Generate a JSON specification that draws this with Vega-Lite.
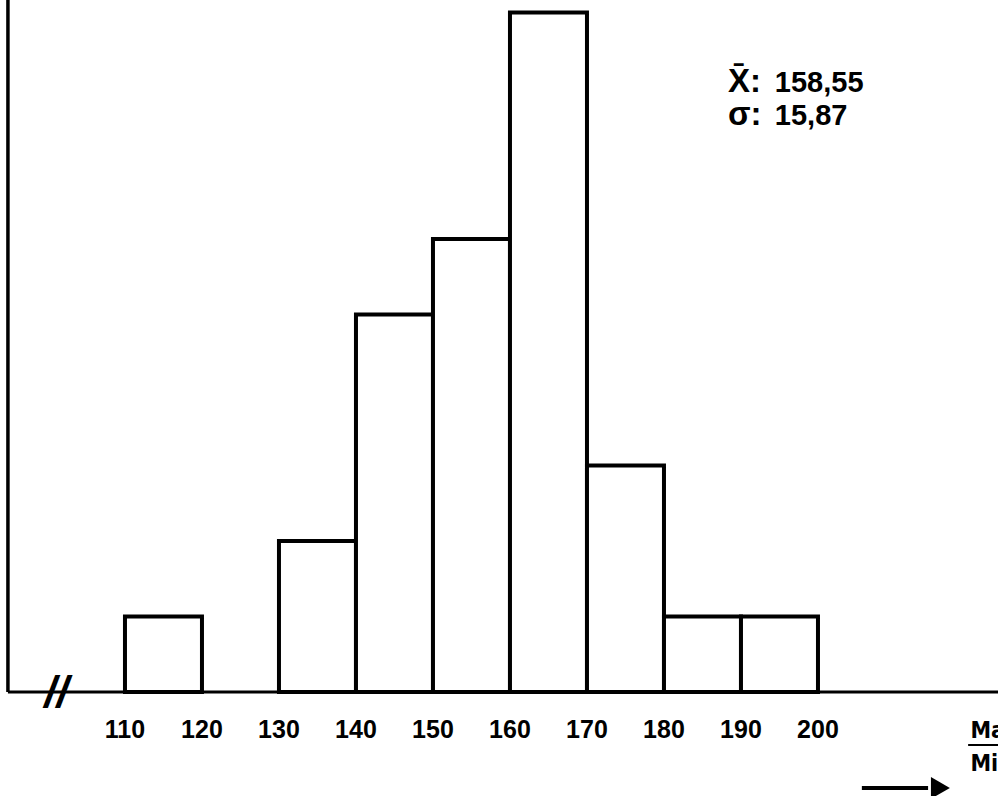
{
  "$schema": "https://vega.github.io/schema/vega-lite/v6.json",
  "width": 998,
  "height": 796,
  "padding": 0,
  "autosize": {"type": "none"},
  "background": "white",
  "config": {
    "view": {"stroke": null},
    "axis": {"disable": true},
    "text": {"font": "Liberation Sans", "fontWeight": "bold", "color": "black"}
  },
  "datasets": {
    "classes": [
      {"lo": 110, "hi": 120, "n": 1},
      {"lo": 130, "hi": 140, "n": 2},
      {"lo": 140, "hi": 150, "n": 5},
      {"lo": 150, "hi": 160, "n": 6},
      {"lo": 160, "hi": 170, "n": 9},
      {"lo": 170, "hi": 180, "n": 3},
      {"lo": 180, "hi": 190, "n": 1},
      {"lo": 190, "hi": 200, "n": 1}
    ],
    "ticks": [
      {"v": 110}, {"v": 120}, {"v": 130}, {"v": 140}, {"v": 150},
      {"v": 160}, {"v": 170}, {"v": 180}, {"v": 190}, {"v": 200}
    ]
  },
  "encoding": {
    "x": {"type": "quantitative", "scale": {"domain": [93.77, 223.38], "nice": false, "zero": false}},
    "y": {"type": "quantitative", "scale": {"domain": [-1.377, 9.166], "nice": false, "zero": false}}
  },
  "layer": [
    {
      "data": {"values": [{"k": "y-axis"}]},
      "mark": {"type": "rule", "stroke": "black", "strokeWidth": 3.5},
      "encoding": {
        "x": {"datum": 94.8, "type": "quantitative"},
        "y": {"datum": 0, "type": "quantitative"},
        "y2": {"datum": 9.3}
      }
    },
    {
      "data": {"values": [{"k": "x-axis"}]},
      "mark": {"type": "rule", "stroke": "black", "strokeWidth": 3},
      "encoding": {
        "x": {"datum": 94.8, "type": "quantitative"},
        "x2": {"datum": 224},
        "y": {"datum": 0, "type": "quantitative"}
      }
    },
    {
      "data": {"name": "classes"},
      "mark": {"type": "rect", "fill": "white", "stroke": "black", "strokeWidth": 4, "strokeJoin": "miter"},
      "encoding": {
        "x": {"field": "lo", "type": "quantitative"},
        "x2": {"field": "hi"},
        "y": {"field": "n", "type": "quantitative"},
        "y2": {"datum": 0}
      }
    },
    {
      "data": {"values": [{"mark": "//"}]},
      "mark": {"type": "text", "fontSize": 44, "fontStyle": "italic", "align": "center", "baseline": "middle"},
      "encoding": {
        "x": {"datum": 101.1, "type": "quantitative"},
        "y": {"datum": -0.02, "type": "quantitative"},
        "text": {"field": "mark"}
      }
    },
    {
      "data": {"name": "ticks"},
      "mark": {"type": "text", "fontSize": 25, "align": "center", "baseline": "alphabetic"},
      "encoding": {
        "x": {"field": "v", "type": "quantitative"},
        "y": {"datum": -0.61, "type": "quantitative"},
        "text": {"field": "v", "type": "quantitative", "format": "d"}
      }
    },
    {
      "data": {"values": [{"label": "X̄:"}]},
      "mark": {"type": "text", "fontSize": 33, "align": "left", "baseline": "alphabetic"},
      "encoding": {
        "x": {"datum": 188.3, "type": "quantitative"},
        "y": {"datum": 7.95, "type": "quantitative"},
        "text": {"field": "label"}
      }
    },
    {
      "data": {"values": [{"label": "158,55"}]},
      "mark": {"type": "text", "fontSize": 29, "align": "left", "baseline": "alphabetic"},
      "encoding": {
        "x": {"datum": 194.4, "type": "quantitative"},
        "y": {"datum": 7.95, "type": "quantitative"},
        "text": {"field": "label"}
      }
    },
    {
      "data": {"values": [{"label": "σ:"}]},
      "mark": {"type": "text", "fontSize": 33, "align": "left", "baseline": "alphabetic"},
      "encoding": {
        "x": {"datum": 188.3, "type": "quantitative"},
        "y": {"datum": 7.51, "type": "quantitative"},
        "text": {"field": "label"}
      }
    },
    {
      "data": {"values": [{"label": "15,87"}]},
      "mark": {"type": "text", "fontSize": 29, "align": "left", "baseline": "alphabetic"},
      "encoding": {
        "x": {"datum": 194.4, "type": "quantitative"},
        "y": {"datum": 7.51, "type": "quantitative"},
        "text": {"field": "label"}
      }
    },
    {
      "data": {"values": [{"t": "Ma"}]},
      "mark": {"type": "text", "font": "DejaVu Sans Condensed", "fontSize": 23, "align": "left", "baseline": "alphabetic"},
      "encoding": {
        "x": {"datum": 219.8, "type": "quantitative"},
        "y": {"datum": -0.61, "type": "quantitative"},
        "text": {"field": "t"}
      }
    },
    {
      "data": {"values": [{"t": "Mi"}]},
      "mark": {"type": "text", "font": "DejaVu Sans Condensed", "fontSize": 23, "align": "left", "baseline": "alphabetic"},
      "encoding": {
        "x": {"datum": 219.8, "type": "quantitative"},
        "y": {"datum": -1.04, "type": "quantitative"},
        "text": {"field": "t"}
      }
    },
    {
      "data": {"values": [{"k": "fraction"}]},
      "mark": {"type": "rule", "stroke": "black", "strokeWidth": 2},
      "encoding": {
        "x": {"datum": 219.5, "type": "quantitative"},
        "x2": {"datum": 224},
        "y": {"datum": -0.7, "type": "quantitative"}
      }
    },
    {
      "data": {"values": [{"k": "arrow"}]},
      "mark": {"type": "rule", "stroke": "black", "strokeWidth": 4},
      "encoding": {
        "x": {"datum": 205.7, "type": "quantitative"},
        "x2": {"datum": 214.3},
        "y": {"datum": -1.27, "type": "quantitative"}
      }
    },
    {
      "data": {"values": [{"k": "arrowhead"}]},
      "mark": {"type": "point", "shape": "triangle-right", "filled": true, "fill": "black", "opacity": 1, "size": 480},
      "encoding": {
        "x": {"datum": 215.9, "type": "quantitative"},
        "y": {"datum": -1.27, "type": "quantitative"}
      }
    }
  ]
}
